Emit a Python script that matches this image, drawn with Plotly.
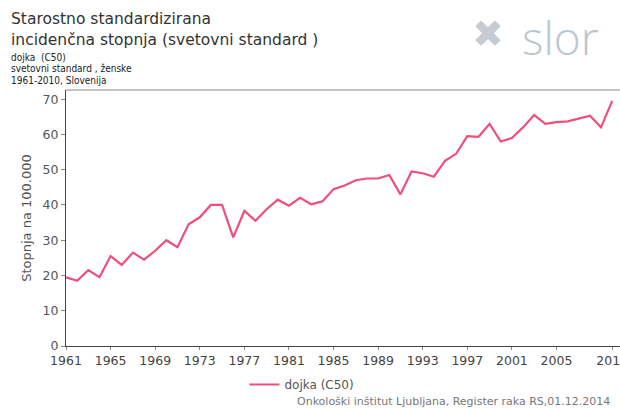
import plotly.graph_objects as go

years = list(range(1961, 2011))
values = [19.5, 18.5, 21.5, 19.5, 25.5, 23.0, 26.5, 24.5, 27.0, 30.0,
          28.0, 34.5, 36.5, 40.0, 40.0, 30.8, 38.3, 35.5, 38.8, 41.5,
          39.8, 42.0, 40.2, 41.0, 44.5, 45.5, 47.0, 47.5, 47.5, 48.5,
          43.0, 49.5, 49.0, 48.0, 52.5, 54.5, 59.5, 59.3, 63.0, 58.0,
          59.0, 62.0, 65.5, 63.0, 63.5, 63.7, 64.5, 65.3, 62.0, 69.5]
x_ticks = [1961, 1965, 1969, 1973, 1977, 1981, 1985, 1989, 1993, 1997, 2001, 2005, 2010]
y_ticks = [0, 10, 20, 30, 40, 50, 60, 70]
series_name = "dojka (C50)"

fig = go.Figure()
fig.add_trace(go.Scatter(
    x=years, y=values, mode="lines", name=series_name,
    line=dict(color="#f04e7c", width=2.2),
))

W, H = 620, 408
fig.update_layout(
    width=W, height=H,
    margin=dict(l=66, r=0, t=90, b=62, autoexpand=False),
    paper_bgcolor="white", plot_bgcolor="white",
    showlegend=True,
    legend=dict(orientation="h", xref="container", yref="container",
                x=0.487, xanchor="center", y=1 - 370 / H, yanchor="top",
                font=dict(family="DejaVu Sans", size=12, color="#555"),
                itemwidth=30),
    xaxis=dict(range=[1961, 2010.7], tickvals=x_ticks, showgrid=False,
               zeroline=False, showline=True, linecolor="#444", linewidth=1,
               ticks="outside", ticklen=3, tickcolor="#888",
               ticklabeloverflow="allow", automargin=False,
               tickfont=dict(family="DejaVu Sans", size=12.5, color="#444")),
    yaxis=dict(range=[0, 72.6], tickvals=y_ticks, showgrid=False,
               zeroline=False, showline=True, linecolor="#444", linewidth=1,
               ticks="outside", ticklen=4, tickcolor="#888", automargin=False,
               tickfont=dict(family="DejaVu Sans", size=12.5, color="#555"),
               title=dict(text="Stopnja na 100.000", standoff=8,
                          font=dict(family="DejaVu Sans", size=13, color="#555"))),
    shapes=[dict(type="line", xref="paper", yref="paper", x0=0, x1=1, y0=1, y1=1,
                 line=dict(color="#888", width=1))],
)

pl, pr, pt, pb = 66, 620, 90, 346
def px(x): return (x - pl) / (pr - pl)
def py(y): return (pb - y) / (pb - pt)

def cann(text, x, y, size, color="#222", family="DejaVu Sans", xanchor="left", weight="normal"):
    fig.add_annotation(text=text, x=px(x), y=py(y), xref="paper", yref="paper",
                       xanchor=xanchor, yanchor="middle", showarrow=False,
                       font=dict(family=family, size=size, color=color, weight=weight))

cann("✖", 470, 34, 38, color="#c5ccd3")
cann("slor", 520, 37, 46, color="#bcc6cf", family="Open Sans", weight=300)
cann("Starostno standardizirana", 9, 19, 15.5, color="#333")
cann("incidenčna stopnja (svetovni standard )", 9, 40, 15.5, color="#333")
cann("dojka  (C50)", 9, 57, 10, color="#222", family="DejaVu Sans Condensed")
cann("svetovni standard , ženske", 9, 68, 10, color="#222", family="DejaVu Sans Condensed")
cann("1961-2010, Slovenija", 9, 80, 10, color="#222", family="DejaVu Sans Condensed")
cann("Onkološki inštitut Ljubljana, Register raka RS,01.12.2014", 612, 401, 11,
     color="#777", xanchor="right")

fig.write_html("out.html", config={"displayModeBar": False})
with open("out.html", "r", encoding="utf-8") as f:
    html = f.read()
html = html.replace("<head>", "<head><style>html,body{margin:0;padding:0;overflow:hidden}</style>", 1)
with open("out.html", "w", encoding="utf-8") as f:
    f.write(html)
